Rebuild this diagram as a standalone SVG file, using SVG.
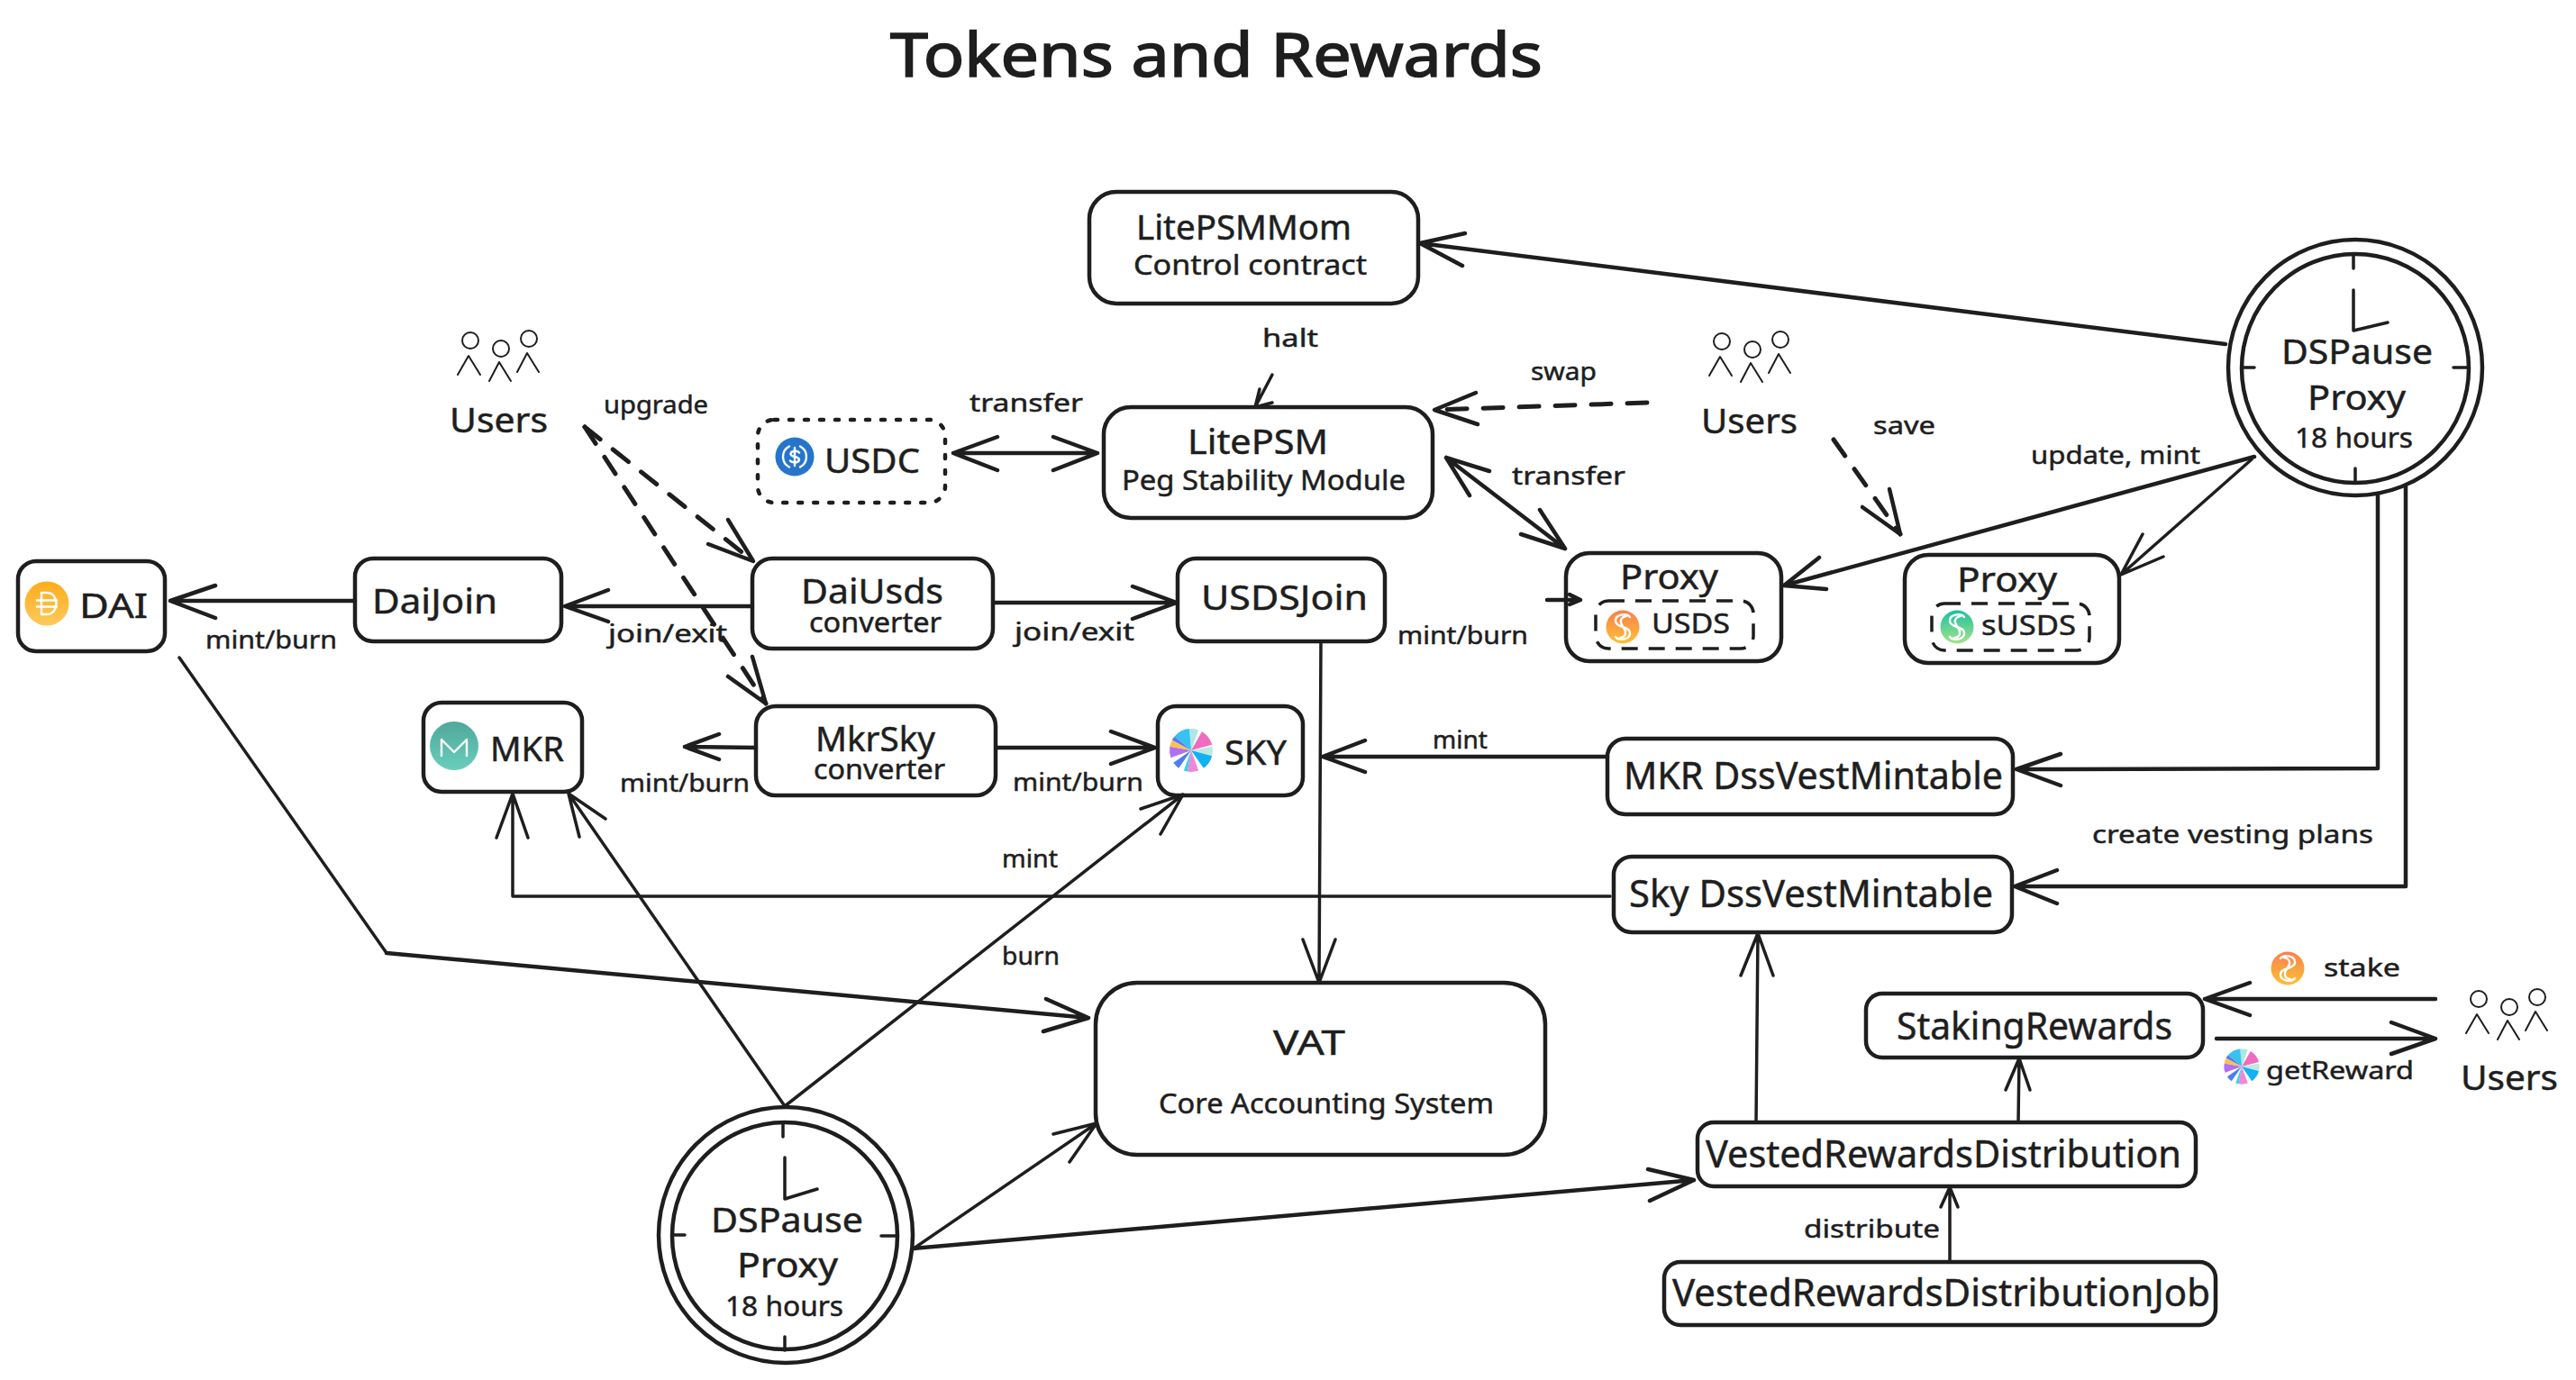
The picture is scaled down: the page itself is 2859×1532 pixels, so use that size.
<svg xmlns="http://www.w3.org/2000/svg" width="2859" height="1532" viewBox="0 0 2859 1532">
<style>
text{font-family:"Noto Sans","Liberation Sans",sans-serif;fill:#1e1e1e;stroke:#1e1e1e;stroke-width:.5;white-space:pre}
.t0{font-size:68px;stroke-width:1.6}
.t1{font-size:38px}
.t2{font-size:31px}
.t3{font-size:28px}
.t4{font-size:42px}
.b{fill:#fff;stroke:#1e1e1e;stroke-width:4.5}
.s{fill:none;stroke:#1e1e1e;stroke-width:4.5;stroke-linecap:round;stroke-linejoin:round}
.c{fill:none;stroke:#1e1e1e;stroke-width:4.5;stroke-linecap:round;stroke-linejoin:round}
.n{fill:none;stroke:#1e1e1e;stroke-width:3.5;stroke-linecap:round;stroke-linejoin:round}
.d{stroke-width:5;stroke-dasharray:22 18}
.h{fill:none;stroke:#1e1e1e;stroke-width:2;stroke-linecap:round;stroke-linejoin:round}
.w{fill:none;stroke:#fff;stroke-width:2.4;stroke-linecap:round;stroke-linejoin:round}
</style>
<defs>
<linearGradient id="gDai" x1="0" y1="0" x2="0" y2="1"><stop offset="0" stop-color="#fdac1b"/><stop offset="1" stop-color="#fdca5c"/></linearGradient>
<linearGradient id="gUsds" x1="0" y1="0" x2="0" y2="1"><stop offset="0" stop-color="#f9804e"/><stop offset="1" stop-color="#fdc134"/></linearGradient>
<linearGradient id="gSusds" x1="0" y1="0" x2="0" y2="1"><stop offset="0" stop-color="#1cc0a0"/><stop offset="1" stop-color="#a4e38c"/></linearGradient>
<linearGradient id="gMkr" x1="0" y1="0" x2="0" y2="1"><stop offset="0" stop-color="#4fa89b"/><stop offset="1" stop-color="#6acebb"/></linearGradient>
<g id="users">
<ellipse class="h" cx="522" cy="378" rx="9" ry="9"/><ellipse class="h" cx="556" cy="387" rx="9" ry="9"/><ellipse class="h" cx="587" cy="376" rx="9" ry="9"/>
<path class="h" d="M508 416L520 395L533 416M543 423L554 402L567 423M574 413L585 392L598 413"/>
</g>
<g id="pin">
<path fill="#aee8e4" d="M0 0L-2.1 -23.9A24 24 0 0 1 8.2 -22.6Z"/>
<path fill="#36c2f2" d="M0 0L-18.4 -15.4A24 24 0 0 1 -2.1 -23.9Z"/>
<path fill="#5a7af0" d="M0 0L-21.2 -11.3A24 24 0 0 1 -18.4 -15.4Z"/>
<path fill="#f06cc0" d="M0 0L12 -20.8A24 24 0 0 1 23.2 -6.2Z"/>
<path fill="#bde9e0" d="M0 0L23.6 -4.2A24 24 0 0 1 23.2 6.2Z"/>
<path fill="#12b1f2" d="M0 0L23.2 6.2A24 24 0 0 1 13.8 19.7Z"/>
<path fill="#ee88d8" d="M0 0L8.2 22.6A24 24 0 0 1 -4.2 23.6Z"/>
<path fill="#35d0e8" d="M0 0L-4.2 23.6A24 24 0 0 1 -8.2 22.6Z"/>
<path fill="#4f7df0" d="M0 0L-13.8 19.7A24 24 0 0 1 -19.7 13.8Z"/>
<path fill="#b070f0" d="M0 0L-22.6 8.2A24 24 0 0 1 -23.6 -4.2Z"/>
<path fill="#fdc050" d="M0 0L-23.6 -4.2A24 24 0 0 1 -21.2 -11.3Z"/>
</g>
<g id="curl">
<path class="w" d="M8 -11C4 -16 -9 -14 -8 -6C-7 1 7 -1 8 6C9 14 -4 16 -8 11"/>
<path class="w" d="M4 -12C1 -12 -3 -9 -2 -5C-1 0 4 2 3 7C3 10 0 12 -3 12"/>
</g>
</defs>
<rect width="2859" height="1532" fill="#fff"/>
<text id="title" class="t0" x="988" y="85" textLength="724" lengthAdjust="spacingAndGlyphs">Tokens and Rewards</text>

<g id="users-left"><use href="#users"/><text class="t1" x="499" y="480" textLength="109" lengthAdjust="spacingAndGlyphs">Users</text></g>
<g id="users-mid"><use href="#users" transform="translate(1389 1)"/><text class="t1" x="1888" y="481" textLength="107" lengthAdjust="spacingAndGlyphs">Users</text></g>
<g id="users-right"><use href="#users" transform="translate(2229 731)"/><text class="t1" x="2731" y="1210" textLength="108" lengthAdjust="spacingAndGlyphs">Users</text></g>

<g id="litepsmmom"><rect class="b" x="1209" y="213" width="365" height="124" rx="30"/>
<text class="t1" x="1261" y="266" textLength="239" lengthAdjust="spacingAndGlyphs">LitePSMMom</text>
<text class="t2" x="1258" y="305" textLength="259" lengthAdjust="spacingAndGlyphs">Control contract</text></g>
<g id="litepsm"><rect class="b" x="1225" y="452" width="365" height="123" rx="30"/>
<text class="t1" x="1318" y="504" textLength="156" lengthAdjust="spacingAndGlyphs">LitePSM</text>
<text class="t2" x="1245" y="544" textLength="315" lengthAdjust="spacingAndGlyphs">Peg Stability Module</text></g>
<g id="usdc"><rect x="841" y="466" width="208" height="92" rx="18" fill="#fff" stroke="#1e1e1e" stroke-width="4.5" stroke-linecap="round" stroke-dasharray="4 13"/>
<circle cx="882" cy="507" r="21.5" fill="#2775ca"/>
<path class="w" d="M876 495.5A13 13 0 0 0 876 518.5M888 495.5A13 13 0 0 1 888 518.5M882 497V517"/>
<path class="w" d="M887 502.5C885 500 878 500 877.5 504C877.500 508 887 506 887 510.5C886.5 514 879 514 877 511.5"/>
<text class="t1" x="915" y="525" textLength="106" lengthAdjust="spacingAndGlyphs">USDC</text></g>
<g id="dai"><rect class="b" x="20" y="623" width="163" height="100" rx="20"/>
<circle cx="52" cy="670" r="24.5" fill="url(#gDai)"/>
<path class="w" d="M46 658H52C66 658 66 682 52 682H46ZM41 666.5H63M41 673.5H63"/>
<text class="t1" x="88" y="686" textLength="76" lengthAdjust="spacingAndGlyphs">DAI</text></g>
<g id="daijoin"><rect class="b" x="394" y="620" width="229" height="92" rx="20"/>
<text class="t1" x="413" y="681" textLength="139" lengthAdjust="spacingAndGlyphs">DaiJoin</text></g>
<g id="daiusds"><rect class="b" x="835" y="620" width="267" height="100" rx="22"/>
<text class="t1" x="889" y="670" textLength="158" lengthAdjust="spacingAndGlyphs">DaiUsds</text>
<text class="t2" x="898" y="702" textLength="147" lengthAdjust="spacingAndGlyphs">converter</text></g>
<g id="usdsjoin"><rect class="b" x="1307" y="620" width="230" height="92" rx="20"/>
<text class="t1" x="1333" y="677" textLength="185" lengthAdjust="spacingAndGlyphs">USDSJoin</text></g>
<g id="proxy-usds"><rect class="b" x="1738" y="614" width="239" height="120" rx="26"/>
<text class="t1" x="1798" y="654" textLength="109" lengthAdjust="spacingAndGlyphs">Proxy</text>
<rect x="1771" y="667" width="175" height="53" rx="14" fill="none" stroke="#1e1e1e" stroke-width="3.5" stroke-dasharray="18 12"/>
<circle cx="1801" cy="696" r="18.5" fill="url(#gUsds)"/><use href="#curl" transform="translate(1801 696)"/>
<text class="t2" x="1833" y="703" textLength="87" lengthAdjust="spacingAndGlyphs">USDS</text></g>
<g id="proxy-susds"><rect class="b" x="2114" y="616" width="238" height="120" rx="26"/>
<text class="t1" x="2172" y="657" textLength="111" lengthAdjust="spacingAndGlyphs">Proxy</text>
<rect x="2144" y="670" width="175" height="52" rx="14" fill="none" stroke="#1e1e1e" stroke-width="3.5" stroke-dasharray="18 12"/>
<circle cx="2172" cy="696" r="18.5" fill="url(#gSusds)"/><use href="#curl" transform="translate(2172 696)"/>
<text class="t2" x="2199" y="705" textLength="105" lengthAdjust="spacingAndGlyphs">sUSDS</text></g>
<g id="mkr"><rect class="b" x="470" y="780" width="176" height="99" rx="20"/>
<circle cx="504" cy="828" r="27" fill="url(#gMkr)"/>
<path class="w" d="M490 839V821L504 835L518 821V839"/>
<text class="t1" x="544" y="845" textLength="82" lengthAdjust="spacingAndGlyphs">MKR</text></g>
<g id="mkrsky"><rect class="b" x="839" y="784" width="266" height="99" rx="22"/>
<text class="t1" x="905" y="834" textLength="133" lengthAdjust="spacingAndGlyphs">MkrSky</text>
<text class="t2" x="903" y="865" textLength="146" lengthAdjust="spacingAndGlyphs">converter</text></g>
<g id="sky"><rect class="b" x="1285" y="784" width="161" height="99" rx="20"/>
<use href="#pin" transform="translate(1322 833)"/>
<text class="t1" x="1359" y="849" textLength="69" lengthAdjust="spacingAndGlyphs">SKY</text></g>
<g id="vat"><rect class="b" x="1216" y="1091" width="499" height="191" rx="46"/>
<text class="t1" x="1413" y="1171" textLength="80" lengthAdjust="spacingAndGlyphs">VAT</text>
<text class="t2" x="1286" y="1236" textLength="372" lengthAdjust="spacingAndGlyphs">Core Accounting System</text></g>
<g id="mkr-vest"><rect class="b" x="1784" y="820" width="450" height="84" rx="20"/>
<text class="t4" x="1802" y="876" textLength="421" lengthAdjust="spacingAndGlyphs">MKR DssVestMintable</text></g>
<g id="sky-vest"><rect class="b" x="1791" y="951" width="442" height="84" rx="20"/>
<text class="t4" x="1808" y="1007" textLength="404" lengthAdjust="spacingAndGlyphs">Sky DssVestMintable</text></g>
<g id="staking"><rect class="b" x="2071" y="1103" width="374" height="71" rx="18"/>
<text class="t4" x="2105" y="1154" textLength="306" lengthAdjust="spacingAndGlyphs">StakingRewards</text></g>
<g id="vested"><rect class="b" x="1884" y="1246" width="553" height="71" rx="18"/>
<text class="t4" x="1893" y="1296" textLength="528" lengthAdjust="spacingAndGlyphs">VestedRewardsDistribution</text></g>
<g id="vested-job"><rect class="b" x="1847" y="1401" width="612" height="70" rx="18"/>
<text class="t4" x="1856" y="1450" textLength="597" lengthAdjust="spacingAndGlyphs">VestedRewardsDistributionJob</text></g>

<g id="clock-top">
<ellipse class="b" cx="2614" cy="408" rx="141" ry="142"/>
<ellipse class="s" cx="2614" cy="409" rx="126" ry="127"/>
<path class="n" d="M2612 283V298M2614 520V535M2488 408H2502M2723 408H2740M2612 322V367L2650 358"/>
<text class="t1" x="2532" y="404" textLength="168" lengthAdjust="spacingAndGlyphs">DSPause</text>
<text class="t1" x="2561" y="455" textLength="109" lengthAdjust="spacingAndGlyphs">Proxy</text>
<text class="t2" x="2547" y="497" textLength="131" lengthAdjust="spacingAndGlyphs">18 hours</text>
</g>
<g id="clock-bottom">
<ellipse class="b" cx="872" cy="1371" rx="141" ry="142"/>
<ellipse class="s" cx="871" cy="1372" rx="125" ry="126"/>
<path class="n" d="M869 1247V1262M871 1484V1499M746 1371H760M978 1372H996M871 1285V1331L907 1320"/>
<text class="t1" x="789" y="1368" textLength="169" lengthAdjust="spacingAndGlyphs">DSPause</text>
<text class="t1" x="818" y="1418" textLength="112" lengthAdjust="spacingAndGlyphs">Proxy</text>
<text class="t2" x="805" y="1461" textLength="131" lengthAdjust="spacingAndGlyphs">18 hours</text>
</g>

<g id="stake-icon"><circle cx="2539" cy="1075" r="18.5" fill="url(#gUsds)"/><use href="#curl" transform="translate(2539 1075) scale(-1 1)"/></g>
<use id="reward-icon" href="#pin" transform="translate(2488 1184) scale(.82)"/>

<g id="connectors">
<path class="c" d="M2470 382L1576 270M1626 259L1576 270L1623 295"/>
<path class="c" d="M2502 507L1980 650M2019 619L1980 650L2027 654"/>
<path class="n" d="M2499 510L2354 638M2378 593L2354 638L2401 618"/>
<path class="c" d="M2639 550V853L2238 854M2287 837L2238 854L2287 872"/>
<path class="c" d="M2670 540V984H2236M2283 966L2236 984L2283 1003"/>
<path class="c" d="M1784 840H1468M1515 822L1468 840L1515 857"/>
<path class="n" d="M1787 995H569V881M551 930L569 881L586 930"/>
<path class="n" d="M1466 713L1464 1091M1446 1043L1464 1091L1482 1043"/>
<path class="n" d="M199 730L429 1058"/>
<path class="c" d="M429 1058L1208 1130M1161 1109L1208 1130L1158 1145"/>
<path class="n" d="M871 1228L631 881M672 909L631 881L643 929"/>
<path class="n" d="M871 1228L1313 882M1266 898L1313 882L1288 926"/>
<path class="n" d="M1014 1386L1217 1247M1169 1259L1217 1247L1187 1290"/>
<path class="c" d="M1014 1386L1880 1310M1829 1298L1880 1310L1831 1333"/>
<path class="n" d="M1949 1246L1951 1036M1932 1083L1951 1036L1968 1083"/>
<path class="n" d="M2240 1246L2241 1175M2226 1210L2241 1175L2253 1210"/>
<path class="n" d="M2164 1400V1318M2154 1340L2164 1318L2173 1340"/>
<path class="c" d="M2703 1109H2447M2497 1091L2447 1109L2497 1127"/>
<path class="c" d="M2460 1153H2703M2654 1135L2703 1153L2654 1170"/>
<path class="c" d="M394 667H189M239 650L189 667L239 686"/>
<path class="c" d="M835 673H627M675 655L627 673L675 690"/>
<path class="c" d="M1104 669H1306M1257 651L1306 669L1257 687"/>
<path class="c" d="M1058 503H1218M1107 485L1058 503L1107 522M1169 485L1218 503L1169 522"/>
<path class="c d" d="M649 474L836 623"/>
<path class="c" d="M808 577L836 623L786 604"/>
<path class="c d" d="M649 474L850 781"/>
<path class="c" d="M835 729L850 781L808 751"/>
<path class="c" d="M839 830L760 829M798 815L760 829L798 843"/>
<path class="c" d="M1106 830H1282M1233 812L1282 830L1233 848"/>
<path class="n" d="M1412 416L1393 452M1398 432L1393 452L1412 447"/>
<path class="c d" d="M1828 447L1592 455"/>
<path class="c" d="M1638 436L1592 455L1640 471"/>
<path class="c" d="M1605 508L1737 609M1653 523L1605 508L1631 550M1709 566L1737 609L1688 593"/>
<path class="c d" d="M2035 488L2109 593"/>
<path class="c" d="M2097 543L2109 593L2067 563"/>
<path class="c" d="M1717 666H1754M1742 660L1754 666L1742 671"/>
</g>

<g id="labels">
<text class="t3" x="670" y="459" textLength="116" lengthAdjust="spacingAndGlyphs">upgrade</text>
<text class="t3" x="1076" y="457" textLength="126" lengthAdjust="spacingAndGlyphs">transfer</text>
<text class="t3" x="1401" y="385" textLength="62" lengthAdjust="spacingAndGlyphs">halt</text>
<text class="t3" x="228" y="720" textLength="146" lengthAdjust="spacingAndGlyphs">mint/burn</text>
<text class="t3" x="675" y="713" textLength="132" lengthAdjust="spacingAndGlyphs">join/exit</text>
<text class="t3" x="1126" y="711" textLength="133" lengthAdjust="spacingAndGlyphs">join/exit</text>
<text class="t3" x="1699" y="422" textLength="73" lengthAdjust="spacingAndGlyphs">swap</text>
<text class="t3" x="2079" y="482" textLength="69" lengthAdjust="spacingAndGlyphs">save</text>
<text class="t3" x="1678" y="538" textLength="126" lengthAdjust="spacingAndGlyphs">transfer</text>
<text class="t3" x="2254" y="515" textLength="188" lengthAdjust="spacingAndGlyphs">update, mint</text>
<text class="t3" x="1551" y="715" textLength="145" lengthAdjust="spacingAndGlyphs">mint/burn</text>
<text class="t3" x="688" y="879" textLength="144" lengthAdjust="spacingAndGlyphs">mint/burn</text>
<text class="t3" x="1124" y="878" textLength="145" lengthAdjust="spacingAndGlyphs">mint/burn</text>
<text class="t3" x="1112" y="963" textLength="62" lengthAdjust="spacingAndGlyphs">mint</text>
<text class="t3" x="1112" y="1071" textLength="64" lengthAdjust="spacingAndGlyphs">burn</text>
<text class="t3" x="1590" y="831" textLength="61" lengthAdjust="spacingAndGlyphs">mint</text>
<text class="t3" x="2322" y="936" textLength="312" lengthAdjust="spacingAndGlyphs">create vesting plans</text>
<text class="t3" x="2579" y="1084" textLength="85" lengthAdjust="spacingAndGlyphs">stake</text>
<text class="t3" x="2515" y="1198" textLength="164" lengthAdjust="spacingAndGlyphs">getReward</text>
<text class="t3" x="2002" y="1374" textLength="151" lengthAdjust="spacingAndGlyphs">distribute</text>
</g>
</svg>
